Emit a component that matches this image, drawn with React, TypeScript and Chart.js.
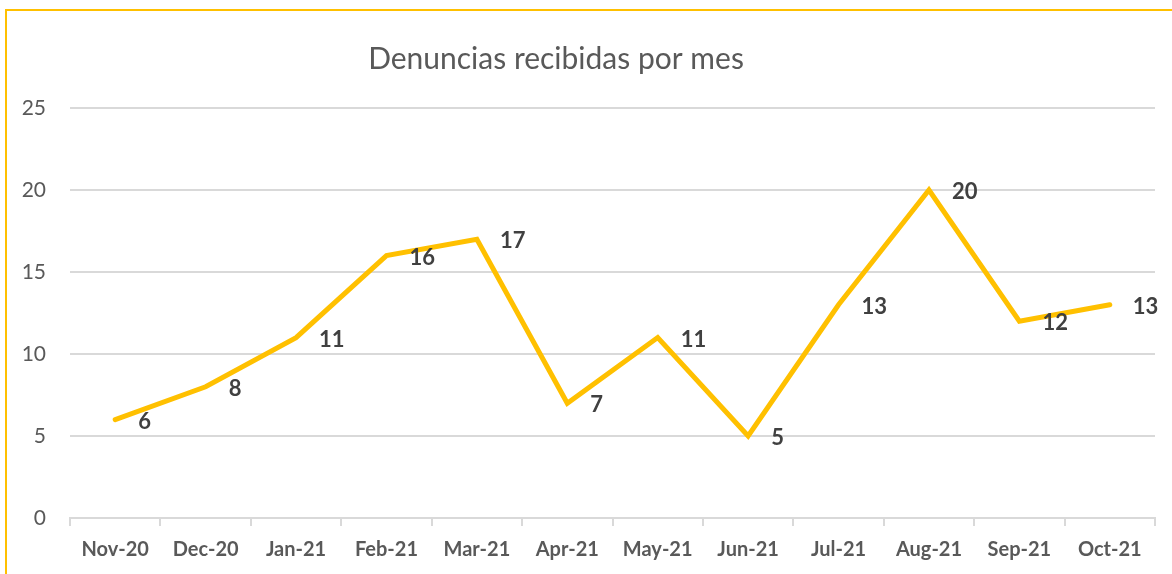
import React, { useEffect, useRef } from "react";
import { Chart, registerables } from "chart.js";

Chart.register(...registerables);

const months = ["Nov-20", "Dec-20", "Jan-21", "Feb-21", "Mar-21", "Apr-21", "May-21", "Jun-21", "Jul-21", "Aug-21", "Sep-21", "Oct-21"];
const denuncias = [6, 8, 11, 16, 17, 7, 11, 5, 13, 20, 12, 13];
const titleText = "Denuncias recibidas por mes";

const FONT = "Lato, 'Open Sans', sans-serif";

const framePlugin = {
  id: "frame",
  beforeDraw(chart: any) {
    const ctx = chart.ctx;
    ctx.save();
    ctx.fillStyle = "#ffffff";
    ctx.fillRect(0, 0, chart.width, chart.height);
    ctx.strokeStyle = "#FFC000";
    ctx.lineWidth = 2;
    ctx.strokeRect(6, 10, 3000, 3000);
    ctx.fillStyle = "#595959";
    ctx.font = `30px ${FONT}`;
    ctx.textAlign = "center";
    ctx.textBaseline = "middle";
    ctx.fillText(titleText, 556, 59);
    ctx.restore();
  },
};

const labelPlugin = {
  id: "pointLabels",
  afterDatasetsDraw(chart: any) {
    const ctx = chart.ctx;
    const meta = chart.getDatasetMeta(0);
    ctx.save();
    ctx.fillStyle = "#404040";
    ctx.font = `bold 22px ${FONT}`;
    ctx.textAlign = "left";
    ctx.textBaseline = "middle";
    meta.data.forEach((pt: any, i: number) => {
      ctx.fillText(String(denuncias[i]), pt.x + 23, pt.y + 2);
    });
    ctx.restore();
  },
};

export default function App() {
  const ref = useRef<HTMLCanvasElement>(null);
  useEffect(() => {
    document.body.style.margin = "0";
    const chart = new Chart(ref.current!, {
      type: "line",
      data: {
        labels: months,
        datasets: [
          {
            data: denuncias,
            borderColor: "#FFC000",
            backgroundColor: "#FFC000",
            borderWidth: 5,
            pointRadius: 0,
            tension: 0,
            borderCapStyle: "round",
            borderJoinStyle: "miter",
          },
        ],
      },
      options: {
        animation: false,
        responsive: false,
        layout: { padding: { top: 108, right: 17, left: 0, bottom: 0 } },
        plugins: { legend: { display: false }, title: { display: false }, tooltip: { enabled: false } },
        scales: {
          x: {
            offset: true,
            grid: { offset: true, drawOnChartArea: false, drawTicks: true, tickLength: 8, color: "#D9D9D9", lineWidth: 2 },
            border: { display: true, color: "#D9D9D9", width: 2 },
            ticks: { color: "#595959", font: { family: FONT, size: 20, weight: "bold" }, padding: 12, maxRotation: 0, autoSkip: false },
            afterFit: (s: any) => { s.height = 56; },
          },
          y: {
            min: 0,
            max: 25,
            ticks: { stepSize: 5, color: "#595959", font: { family: FONT, size: 21 }, padding: 24 },
            grid: { color: "#D9D9D9", lineWidth: 2, drawTicks: false },
            border: { display: false },
            afterFit: (s: any) => { s.width = 70; },
          },
        },
      },
      plugins: [framePlugin, labelPlugin],
    });
    return () => chart.destroy();
  }, []);
  return (
    <div style={{ width: 1172, height: 574 }}>
      <canvas ref={ref} width={1172} height={574} style={{ display: "block" }} />
    </div>
  );
}
